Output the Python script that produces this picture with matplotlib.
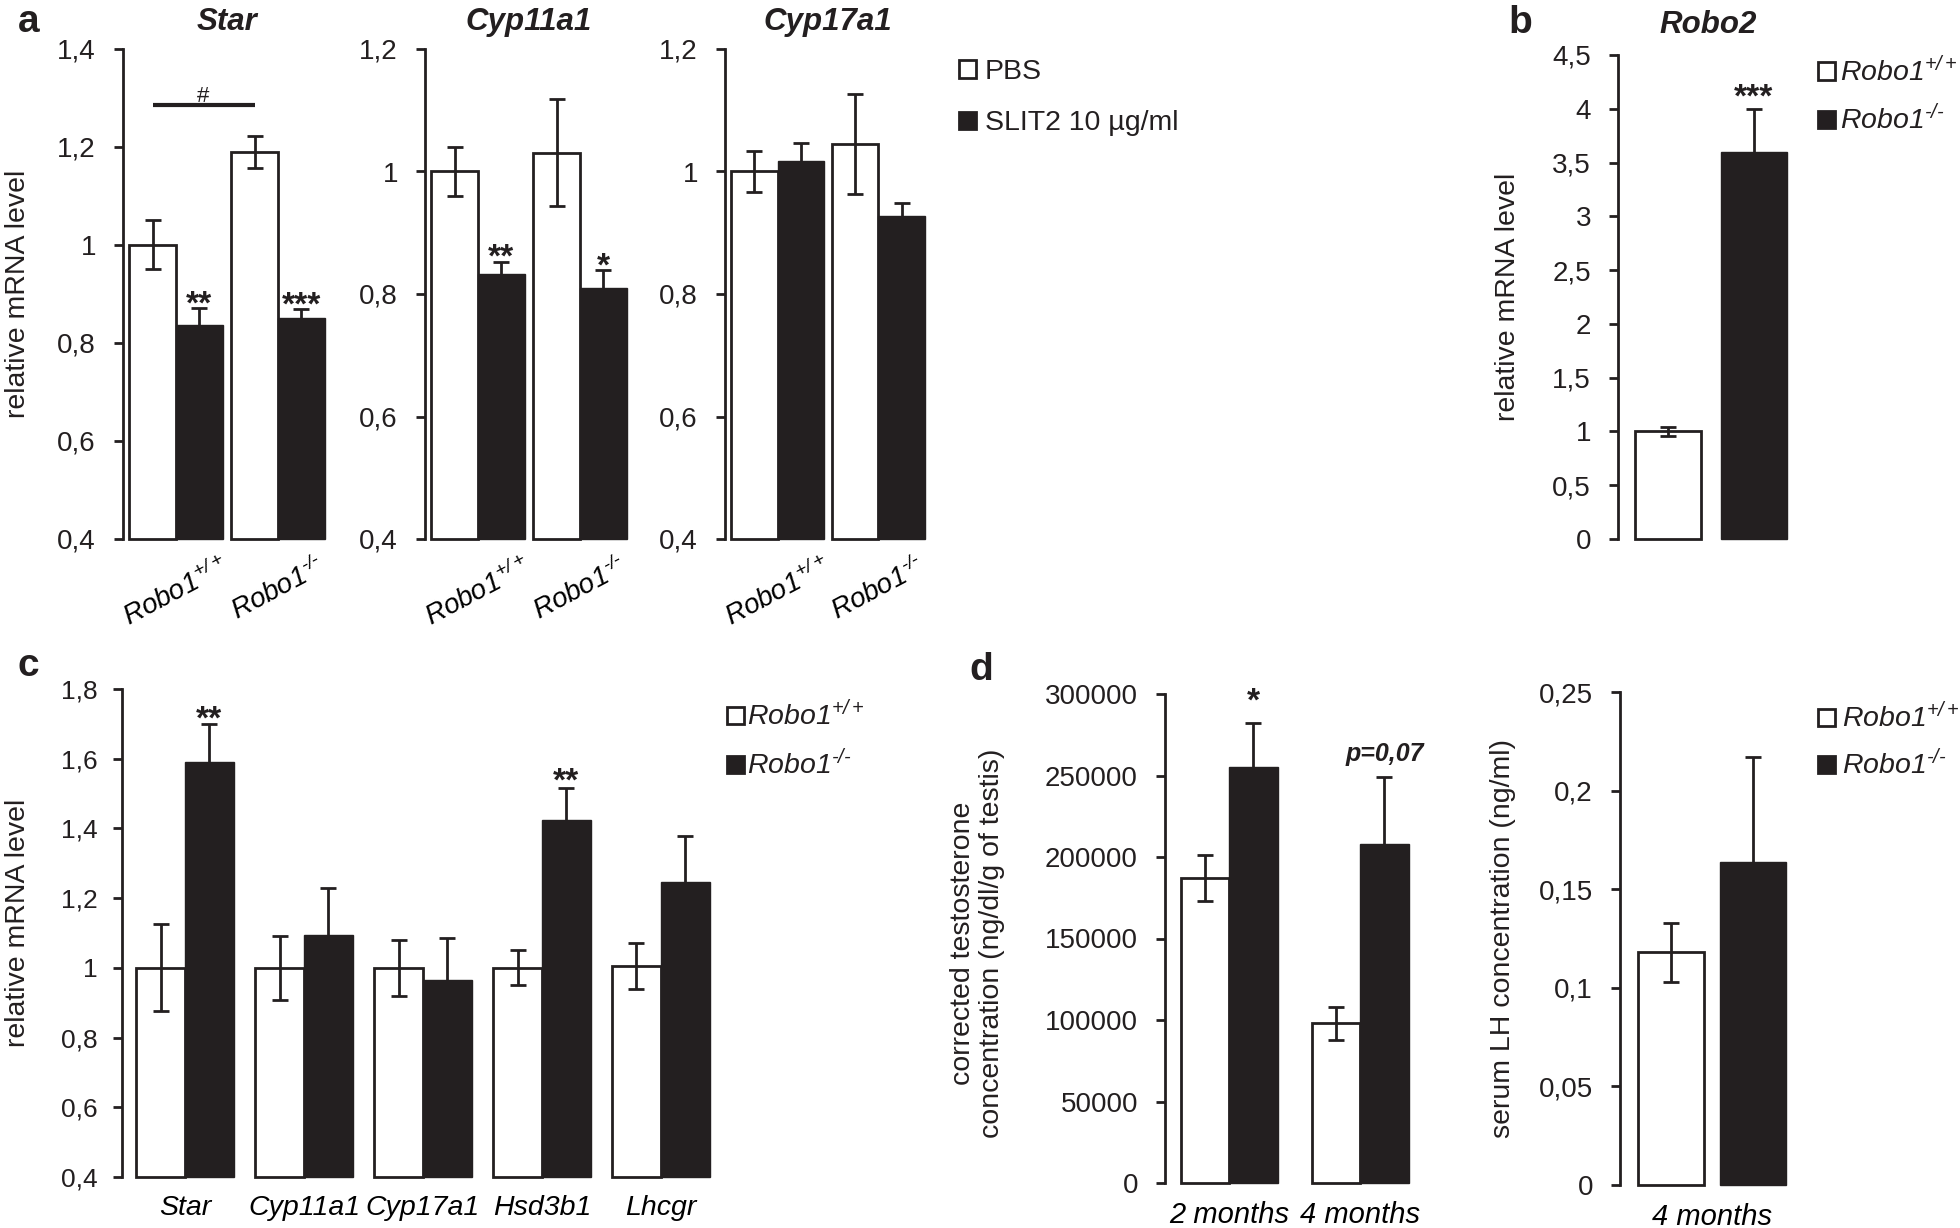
import numpy as np
import matplotlib
matplotlib.use('Agg')
import matplotlib.pyplot as plt
from matplotlib.patches import Rectangle

W, H, DPI = 1960, 1228, 100
FONT = 'Liberation Sans'
INK = '#231f20'
plt.rcParams.update({
    'font.family': [FONT, 'DejaVu Sans'],
    'mathtext.fontset': 'custom',
    'mathtext.rm': FONT + ':italic',
    'mathtext.it': FONT + ':italic',
    'mathtext.bf': FONT + ':bold',
    'text.color': INK,
})

WT = r'$\mathrm{Robo1}^{+/+}$'
KO = '$\\mathrm{Robo1}^{\u2010/\u2010}$'

# ---------------- data: panel a (in vitro SLIT2) ----------------
a_groups = [WT, KO]
a_series = ['PBS', 'SLIT2 10 µg/ml']
a_genes = ['Star', 'Cyp11a1', 'Cyp17a1']
star_yticks = [0.4, 0.6, 0.8, 1.0, 1.2, 1.4]
cyp_yticks = [0.4, 0.6, 0.8, 1.0, 1.2]

star_pbs = [1.0, 1.19]
star_pbs_err = [0.05, 0.032]
star_slit = [0.836, 0.852]
star_slit_err = [0.035, 0.017]
star_sig = ['**', '***']

cyp11a1_pbs = [1.0, 1.031]
cyp11a1_pbs_err = [0.04, 0.088]
cyp11a1_slit = [0.832, 0.809]
cyp11a1_slit_err = [0.021, 0.03]
cyp11a1_sig = ['**', '*']

cyp17a1_pbs = [1.0, 1.045]
cyp17a1_pbs_err = [0.033, 0.082]
cyp17a1_slit = [1.017, 0.927]
cyp17a1_slit_err = [0.03, 0.021]
cyp17a1_sig = ['', '']

# ---------------- data: panel b (Robo2) ----------------
b_groups = [WT, KO]
robo2_vals = [1.0, 3.6]
robo2_err = [0.045, 0.4]
robo2_sig = ['', '***']
b_yticks = [0, 0.5, 1, 1.5, 2, 2.5, 3, 3.5, 4, 4.5]

# ---------------- data: panel c (in vivo genes) ----------------
c_genes = ['Star', 'Cyp11a1', 'Cyp17a1', 'Hsd3b1', 'Lhcgr']
c_wt = [1.0, 1.0, 1.0, 1.0, 1.005]
c_wt_err = [0.125, 0.092, 0.08, 0.05, 0.065]
c_ko = [1.59, 1.095, 0.965, 1.425, 1.245]
c_ko_err = [0.11, 0.135, 0.12, 0.09, 0.133]
c_sig = ['**', '', '', '**', '']
c_yticks = [0.4, 0.6, 0.8, 1.0, 1.2, 1.4, 1.6, 1.8]

# ---------------- data: panel d ----------------
d_ages = ['2 months', '4 months']
testo_wt = [187000, 98000]
testo_wt_err = [14000, 10000]
testo_ko = [255000, 208000]
testo_ko_err = [27000, 41000]
testo_sig = ['*', 'p=0,07']
testo_yticks = [0, 50000, 100000, 150000, 200000, 250000, 300000]

lh_age = ['4 months']
lh_vals = [0.118, 0.164]
lh_err = [0.015, 0.053]
lh_yticks = [0, 0.05, 0.1, 0.15, 0.2, 0.25]

# ---------------- helpers ----------------
fig = plt.figure(figsize=(W / DPI, H / DPI), dpi=DPI)
fig.patch.set_facecolor('white')
PT = 72 / DPI  # points per pixel


def fx(x):
    return x / W


def fy(y):
    return 1 - y / H


def px_ax(l, t, r, b):
    return fig.add_axes([l / W, 1 - b / H, (r - l) / W, (b - t) / H])


def fmt(v):
    return f'{v:.10g}'.replace('.', ',')


def style_axis(ax, ylim, yticks, fs=20, pad=13):
    ax.set_ylim(*ylim)
    ax.set_yticks(yticks)
    ax.set_yticklabels([fmt(v) for v in yticks], fontsize=fs, color=INK)
    for s in ('top', 'right', 'bottom'):
        ax.spines[s].set_visible(False)
    ax.spines['left'].set_linewidth(2.0)
    ax.spines['left'].set_color(INK)
    ax.tick_params(axis='y', length=9 * PT, width=2.0, color=INK, pad=pad)
    ax.tick_params(axis='x', length=0)
    ax.patch.set_alpha(0)


def errbar(ax, x, v, e):
    ax.errorbar(x, v, yerr=e, fmt='none', ecolor=INK, elinewidth=2.0,
                capsize=6, capthick=2.0, zorder=3, clip_on=False)


def paired_bars(ax, x, v1, e1, v2, e2, w, base):
    x = np.asarray(x, float)
    ax.bar(x - w / 2, np.asarray(v1) - base, w, bottom=base, color='white',
           edgecolor=INK, linewidth=2.0, zorder=2, clip_on=False)
    ax.bar(x + w / 2, np.asarray(v2) - base, w, bottom=base, color=INK,
           edgecolor=INK, linewidth=1.0, zorder=2, clip_on=False)
    errbar(ax, x - w / 2, v1, e1)
    errbar(ax, x + w / 2, v2, e2)


def sig(ax, x, ytop, s, gap_px, fs=24, weight='bold', style='normal', center_em=0.585):
    off = gap_px - center_em * fs / PT
    ax.annotate(s, (x, ytop), xytext=(0, off * PT), textcoords='offset points',
                ha='center', va='baseline', fontsize=fs, fontweight=weight,
                fontstyle=style, color=INK, annotation_clip=False)


def legend_rows(x_sq, ys, labels, colors, x_txt, fs=20.5, size=17):
    for y, lab, c in zip(ys, labels, colors):
        fig.add_artist(Rectangle((fx(x_sq), fy(y + size / 2)), size / W, size / H,
                                 transform=fig.transFigure, facecolor=c,
                                 edgecolor=INK, linewidth=2.0))
        fig.text(fx(x_txt), fy(y + 0.358 * fs / PT), lab, fontsize=fs,
                 ha='left', va='baseline', color=INK)


def letter(x, y, s):
    fig.text(fx(x), fy(y), s, fontsize=28, fontweight='bold', ha='center', va='center')


def ylabel(x, y, s, fs=20.5):
    fig.text(fx(x), fy(y), s, fontsize=fs, rotation=90, ha='center', va='center',
             multialignment='center', linespacing=1.15)


# ---------------- panel a ----------------
a_data = {
    'Star': (star_pbs, star_pbs_err, star_slit, star_slit_err, star_sig, star_yticks),
    'Cyp11a1': (cyp11a1_pbs, cyp11a1_pbs_err, cyp11a1_slit, cyp11a1_slit_err, cyp11a1_sig, cyp_yticks),
    'Cyp17a1': (cyp17a1_pbs, cyp17a1_pbs_err, cyp17a1_slit, cyp17a1_slit_err, cyp17a1_sig, cyp_yticks),
}
a_layout = {'Star': (123, 330), 'Cyp11a1': (425, 632), 'Cyp17a1': (725, 930)}
A_TOP, A_BOT = 49, 539
wa = 0.46
bracket_y = 1.285
for gene in a_genes:
    pbs, pbs_e, slit, slit_e, sg, yt = a_data[gene]
    l, r = a_layout[gene]
    ax = px_ax(l, A_TOP, r, A_BOT)
    style_axis(ax, (yt[0], yt[-1]), yt)
    x = np.arange(len(a_groups))
    ax.set_xlim(-0.52, 1.51)
    paired_bars(ax, x, pbs, pbs_e, slit, slit_e, wa, yt[0])
    ax.set_xticks(x)
    ax.set_xticklabels(a_groups, rotation=28, fontsize=20, ha='center')
    ax.tick_params(axis='x', pad=10)
    for i, s in enumerate(sg):
        if s:
            sig(ax, x[i] + wa / 2, slit[i] + slit_e[i], s, 14)
    fig.text(fx((l + r) / 2), fy(22), gene, fontsize=22.5, fontweight='bold',
             fontstyle='italic', ha='center', va='center')
    if gene == 'Star':
        xs = [x[0] - wa / 2, x[1] - wa / 2]
        ax.plot(xs, [bracket_y, bracket_y], color=INK, lw=3.0, clip_on=False,
                solid_capstyle='butt', zorder=3)
        ax.annotate('#', (np.mean(xs), bracket_y), xytext=(0, 3 * PT),
                    textcoords='offset points', ha='center', va='baseline',
                    fontsize=16, color=INK, annotation_clip=False)

legend_rows(959, [69, 120], a_series, ['white', INK], 985)
letter(29, 22, 'a')
ylabel(18, (A_TOP + A_BOT) / 2, 'relative mRNA level')

# ---------------- panel b ----------------
axb = px_ax(1618, 55, 1790, 539)
style_axis(axb, (b_yticks[0], b_yticks[-1]), b_yticks)
xb = np.arange(len(b_groups))
axb.bar(xb, robo2_vals, 0.77, color=['white', INK], edgecolor=INK,
        linewidth=[2.0, 1.0], zorder=2, clip_on=False)
errbar(axb, xb, robo2_vals, robo2_err)
axb.set_xlim(-0.58, 1.42)
axb.set_xticks([])
for i, s in enumerate(robo2_sig):
    if s:
        sig(axb, xb[i], robo2_vals[i] + robo2_err[i], s, 22)
fig.text(fx(1708), fy(25), 'Robo2', fontsize=22.5, fontweight='bold',
         fontstyle='italic', ha='center', va='center')
legend_rows(1818, [71, 119], b_groups, ['white', INK], 1840)
letter(1520, 23, 'b')
ylabel(1508, (55 + 539) / 2, 'relative mRNA level')

# ---------------- panel c ----------------
axc = px_ax(122, 689, 712, 1177)
style_axis(axc, (c_yticks[0], c_yticks[-1]), c_yticks, fs=19, pad=11)
xc = np.arange(len(c_genes))
wc = 0.41
paired_bars(axc, xc, c_wt, c_wt_err, c_ko, c_ko_err, wc, c_yticks[0])
axc.set_xlim(-0.53, 4.43)
axc.set_xticks(xc)
axc.set_xticklabels(c_genes, fontsize=20.5, fontstyle='italic')
axc.tick_params(axis='x', pad=13)
c_gaps = [15, 0, 0, 17, 0]
for i, s in enumerate(c_sig):
    if s:
        sig(axc, xc[i] + wc / 2, c_ko[i] + c_ko_err[i], s, c_gaps[i])
legend_rows(727, [715, 764], [WT, KO], ['white', INK], 747)
letter(28, 666, 'c')
ylabel(18, 923, 'relative mRNA level', fs=20.5)

# ---------------- panel d (testosterone) ----------------
axd = px_ax(1165, 694, 1410, 1183)
style_axis(axd, (testo_yticks[0], testo_yticks[-1]), testo_yticks)
xd = np.arange(len(d_ages))
wd = 0.37
paired_bars(axd, xd, testo_wt, testo_wt_err, testo_ko, testo_ko_err, wd, 0)
axd.set_xlim(-0.49, 1.38)
axd.set_xticks(xd)
axd.set_xticklabels(d_ages, fontsize=21, fontstyle='italic')
axd.tick_params(axis='x', pad=13)
sig(axd, xd[0] + wd / 2, testo_ko[0] + testo_ko_err[0], testo_sig[0], 32)
sig(axd, xd[1] + wd / 2, testo_ko[1] + testo_ko_err[1], testo_sig[1], 25,
    fs=18, weight='bold', style='italic', center_em=0.36)
letter(981, 670, 'd')
ylabel(977, 943, 'corrected testosterone\nconcentration (ng/dl/g of testis)', fs=20.5)

# ---------------- panel d (LH) ----------------
axl = px_ax(1620, 692, 1788, 1185)
style_axis(axl, (lh_yticks[0], lh_yticks[-1]), lh_yticks)
xl = np.array([-0.5, 0.5])
axl.bar(xl, lh_vals, 0.8, color=['white', INK], edgecolor=INK,
        linewidth=[2.0, 1.0], zorder=2, clip_on=False)
errbar(axl, xl, lh_vals, lh_err)
axl.set_xlim(-1.12, 0.93)
axl.set_xticks([0])
axl.set_xticklabels(lh_age, fontsize=21, fontstyle='italic')
axl.tick_params(axis='x', pad=13)
legend_rows(1818, [717, 764], [WT, KO], ['white', INK], 1842)
ylabel(1503, 938, 'serum LH concentration (ng/ml)', fs=20.5)

fig.savefig('out.png', dpi=DPI, facecolor='white')
